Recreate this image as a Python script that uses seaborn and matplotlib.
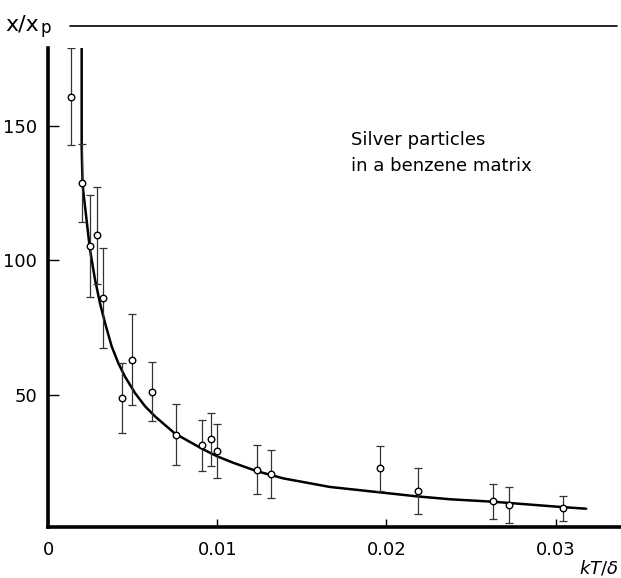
import numpy as np
import pandas as pd
import matplotlib
matplotlib.use("Agg")
import matplotlib.pyplot as plt
from matplotlib.lines import Line2D
import seaborn as sns

# ---- data ----
kT_over_delta = [0.00134, 0.00199, 0.00246, 0.00291, 0.00326, 0.00438, 0.00497,
                 0.00612, 0.00754, 0.00911, 0.00963, 0.00996, 0.01233, 0.01320,
                 0.01963, 0.02186, 0.02630, 0.02726, 0.03044]
chi_ratio = [161.0, 128.8, 105.3, 109.3, 86.0, 48.8, 63.0,
             51.0, 35.1, 31.1, 33.3, 29.1, 22.1, 20.4,
             22.5, 14.1, 10.2, 9.0, 7.7]
chi_err = [18.0, 14.5, 19.0, 18.0, 18.5, 13.0, 17.0,
           11.0, 11.5, 9.5, 10.0, 10.0, 9.0, 9.0,
           8.5, 8.5, 6.4, 6.7, 4.7]

curve_x = [0.00199, 0.00199, 0.00204, 0.00208, 0.00248, 0.00278, 0.00307, 0.00337,
           0.00376, 0.00415, 0.00454, 0.00514, 0.00573, 0.00632, 0.00750, 0.00917,
           0.01000, 0.01095, 0.01233, 0.01390, 0.01666, 0.01960, 0.02180, 0.02380,
           0.02630, 0.03040, 0.03180]
curve_y = [179.4, 142.0, 129.0, 126.0, 104.0, 92.8, 84.1, 76.7,
           68.0, 61.8, 56.8, 50.6, 45.7, 41.9, 35.5, 29.6,
           27.0, 24.6, 21.5, 18.8, 15.6, 13.6, 12.1, 11.0,
           10.1, 8.1, 7.5]

x_ticks = [0, 0.01, 0.02, 0.03]
x_tick_labels = ["0", "0.01", "0.02", "0.03"]
y_ticks = [50, 100, 150]
y_tick_labels = ["50", "100", "150"]

sns.set_style("ticks")
plt.rcParams["font.family"] = ["DejaVu Sans"]
plt.rcParams["text.color"] = "black"
plt.rcParams["xtick.color"] = "black"
plt.rcParams["ytick.color"] = "black"
plt.rcParams["axes.edgecolor"] = "black"

fig = plt.figure(figsize=(6.21, 5.78), dpi=100)
ax = fig.add_axes([48 / 621, 1 - 526.7 / 578, 572 / 621, (526.7 - 47.7) / 578])

pts = pd.DataFrame({"x": kT_over_delta, "y": chi_ratio, "err": chi_err})
cur = pd.DataFrame({"x": curve_x, "y": curve_y})

sns.lineplot(data=cur, x="x", y="y", sort=False, color="black", linewidth=1.8, ax=ax,
             estimator=None, zorder=2)
ax.errorbar(pts["x"], pts["y"], yerr=pts["err"], fmt="none", ecolor="#333333",
            elinewidth=0.9, capsize=3, capthick=0.9, zorder=3)
sns.scatterplot(data=pts, x="x", y="y", marker="o", s=22, facecolor="white",
                edgecolor="black", linewidth=1.0, ax=ax, zorder=4)

ax.set_xlim(0, 0.0338)
ax.set_ylim(0.8, 179.2)
ax.set_xticks(x_ticks)
ax.set_xticklabels(x_tick_labels)
ax.set_yticks(y_ticks)
ax.set_yticklabels(y_tick_labels)
ax.set_xlabel("")
ax.set_ylabel("")

for s in ["top", "right"]:
    ax.spines[s].set_visible(False)
ax.spines["left"].set_linewidth(2.6)
ax.spines["bottom"].set_linewidth(2.6)
ax.tick_params(axis="y", direction="in", length=8, width=1.0, pad=8, labelsize=13)
ax.tick_params(axis="x", direction="in", length=6, width=1.0, pad=10, labelsize=13)

# header label and rule
fig.text(5 / 621, 1 - 24 / 578, "x/x", fontsize=16, ha="left", va="center")
fig.text(40 / 621, 1 - 28 / 578, "p", fontsize=12, ha="left", va="center")
fig.add_artist(Line2D([70 / 621, 617 / 621], [1 - 26 / 578, 1 - 26 / 578],
                      color="black", linewidth=1.2, transform=fig.transFigure))

ax.text(0.0179, 140, "Silver particles\nin a benzene matrix", fontsize=13,
        ha="left", va="center", linespacing=1.6)

fig.text(619 / 621, 1 - 568 / 578, "$kT/\\delta$", fontsize=13, ha="right", va="center")

fig.savefig("out.png", dpi=100)
